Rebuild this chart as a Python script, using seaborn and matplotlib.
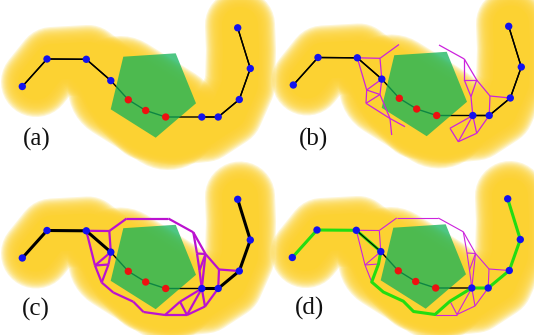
import numpy as np
import matplotlib
matplotlib.use("Agg")
import matplotlib.pyplot as plt
from matplotlib.collections import LineCollection
from matplotlib.patches import Polygon
import seaborn as sns

sns.set_theme(style="white")
plt.rcParams["font.family"] = ["Liberation Serif", "DejaVu Serif"]

# sample points of the path (pixels inside one panel)
path_x = [22.3, 47.0, 86.3, 110.8, 128.3, 145.7, 165.7, 201.8, 218.2, 239.3, 250.3, 237.7]
path_y = [86.5, 59.0, 59.3, 80.6, 99.8, 110.5, 117.0, 117.0, 117.0, 99.5, 68.5, 27.8]
point_kind = ["free"] * 4 + ["blocked"] * 3 + ["free"] * 5

# centre line of the yellow corridor, plus its wide middle part
band_x = [36, 52, 88, 108, 125, 145, 175, 205, 228, 240, 241, 240]
band_y = [82, 62, 60, 75, 105, 125, 130, 127, 112, 85, 50, 25]
bulge_x = [120, 168]
bulge_y = [88, 118]

# green obstacle
obst_x = [123.3, 175.7, 196.0, 155.7, 110.7]
obst_y = [56.7, 53.3, 103.3, 137.7, 109.3]

# full detour mesh, panels (c) and (d)
mesh_nodes = {
    "P3": (86.3, 59.3), "P4": (110.8, 80.6), "P8": (201.8, 117.0),
    "P9": (218.2, 117.0), "P10": (239.3, 99.5),
    "A": (109.3, 59.5), "B": (126.7, 47.0), "C": (168.3, 47.0),
    "D": (193.3, 60.8), "E": (197.0, 82.0), "F": (205.5, 82.5),
    "G": (219.0, 98.0), "R": (199.5, 99.0),
    "L1": (95.0, 94.0), "L2": (108.5, 93.0), "L3": (101.7, 111.0),
    "L4": (113.3, 121.0), "L5": (133.3, 130.2), "L6": (143.5, 140.5),
    "B1": (165.0, 143.5), "B2": (187.0, 143.5), "B3": (205.0, 135.0),
    "BI": (180.0, 130.2),
}
mesh_edges = [
    ("P3", "A"), ("A", "B"), ("B", "C"), ("C", "D"), ("D", "E"), ("D", "F"),
    ("E", "F"), ("E", "R"), ("F", "R"), ("R", "P8"), ("F", "P8"), ("F", "G"),
    ("G", "P10"), ("G", "P9"),
    ("P3", "L1"), ("A", "P4"), ("L1", "P4"), ("L1", "L2"), ("L2", "P4"),
    ("L1", "L3"), ("L2", "L3"), ("L3", "L4"), ("L4", "L5"), ("L5", "L6"),
    ("L6", "B1"), ("B1", "B2"), ("B2", "B3"), ("B3", "P9"), ("B1", "BI"),
    ("BI", "B2"), ("BI", "P8"), ("B2", "P8"), ("B3", "P8"),
]
detour = ["P4", "L2", "L3", "L4", "L5", "L6", "B1", "BI", "P8"]

# partial mesh, panel (b)
part_nodes = {
    "P3": (86.3, 59.3), "P4": (110.8, 80.6), "P8": (201.8, 117.0),
    "P9": (218.2, 117.0), "P10": (239.3, 99.5),
    "A": (109.0, 59.8), "Bt": (128.0, 46.0),
    "L1": (95.7, 91.5), "L2": (109.0, 96.0), "L3": (95.0, 104.8),
    "L4": (119.0, 120.0), "L5": (120.7, 136.5), "L6": (134.0, 128.2),
    "Ct": (168.0, 46.5), "D": (193.3, 60.5), "E": (193.3, 81.5),
    "F": (205.7, 81.5), "R": (200.0, 98.2), "G": (219.0, 97.5),
    "BR1": (179.0, 129.8), "BR2": (187.3, 143.2), "BR3": (205.7, 134.8),
}
part_edges = [
    ("P3", "A"), ("A", "Bt"), ("A", "P4"), ("P3", "L1"), ("L1", "P4"),
    ("L1", "L2"), ("L2", "P4"), ("L1", "L3"), ("L3", "L2"), ("L2", "L4"),
    ("L3", "L4"), ("L4", "L5"), ("L4", "L6"),
    ("Ct", "D"), ("D", "E"), ("D", "F"), ("E", "F"), ("E", "R"), ("F", "R"),
    ("R", "P8"), ("F", "G"), ("G", "P10"), ("G", "P9"),
    ("P8", "BR1"), ("BR1", "BR2"), ("BR2", "P8"), ("BR2", "BR3"),
    ("BR3", "P8"), ("BR3", "P9"),
]

labels = ["(a)", "(b)", "(c)", "(d)"]

# layout of the four panels (pixel offsets)
offsets = [(0, 0), (271, -1.5), (0, 171.5), (270, 171)]
label_pos = [(22.5, 139), (298.7, 139), (21.7, 309.5), (295, 308.5)]

YELLOW = "#FCD232"
BLUE = "#1212EE"
RED = "#EE1010"
MAGENTA = "#CC22DD"
GREEN = "#22DD11"
PX = 0.72  # points per pixel at dpi 100

fig = plt.figure(figsize=(5.34, 3.35), dpi=100)
ax = fig.add_axes([0, 0, 1, 1])

px = np.array(path_x)
py = np.array(path_y)


def segs(nodes, edges, ox, oy):
    return [[(nodes[a][0] + ox, nodes[a][1] + oy),
             (nodes[b][0] + ox, nodes[b][1] + oy)] for a, b in edges]


def soft_stroke(xs, ys, core, outer):
    for w in np.linspace(core, outer, 16):
        ax.plot(xs, ys, color=YELLOW, lw=w * PX, alpha=0.2,
                solid_capstyle="round", solid_joinstyle="round", zorder=1)
    ax.plot(xs, ys, color=YELLOW, lw=core * PX, solid_capstyle="round",
            solid_joinstyle="round", zorder=1)


for i, (ox, oy) in enumerate(offsets):
    # blurred yellow corridor
    soft_stroke(np.array(band_x) + ox, np.array(band_y) + oy, 36, 70)
    soft_stroke(np.array(bulge_x) + ox, np.array(bulge_y) + oy, 72, 104)

    # thin path (goes under the obstacle)
    sns.lineplot(x=px + ox, y=py + oy, sort=False, estimator=None,
                 color="black", lw=1.0, ax=ax, zorder=2)

    # obstacle
    ax.add_patch(Polygon(np.column_stack([np.array(obst_x) + ox, np.array(obst_y) + oy]),
                         closed=True, facecolor=(0.07, 0.70, 0.35), alpha=0.75,
                         edgecolor="none", zorder=3))

    # mesh
    if i == 1:
        ax.add_collection(LineCollection(segs(part_nodes, part_edges, ox, oy),
                                         colors=MAGENTA, linewidths=0.9, zorder=4))
    elif i >= 2:
        ax.add_collection(LineCollection(segs(mesh_nodes, mesh_edges, ox, oy),
                                         colors="#BB11D0" if i == 2 else MAGENTA,
                                         linewidths=1.6 if i == 2 else 0.8, zorder=4))

    # outer parts of the path
    if i == 2:
        sns.lineplot(x=px[:4] + ox, y=py[:4] + oy, sort=False, estimator=None,
                     color="black", lw=2.2, ax=ax, zorder=5)
        sns.lineplot(x=px[7:] + ox, y=py[7:] + oy, sort=False, estimator=None,
                     color="black", lw=2.2, ax=ax, zorder=5)
    elif i == 3:
        dx = np.array([mesh_nodes[n][0] for n in detour])
        dy = np.array([mesh_nodes[n][1] for n in detour])
        sns.lineplot(x=px[:4] + ox, y=py[:4] + oy, sort=False, estimator=None,
                     color=GREEN, lw=2.2, ax=ax, zorder=5)
        sns.lineplot(x=dx + ox, y=dy + oy, sort=False, estimator=None,
                     color=GREEN, lw=2.2, ax=ax, zorder=5)
        sns.lineplot(x=px[7:] + ox, y=py[7:] + oy, sort=False, estimator=None,
                     color=GREEN, lw=2.2, ax=ax, zorder=5)
        sns.lineplot(x=px[2:4] + ox, y=py[2:4] + oy, sort=False, estimator=None,
                     color="black", lw=0.8, ax=ax, zorder=5.5)
    else:
        sns.lineplot(x=px[:4] + ox, y=py[:4] + oy, sort=False, estimator=None,
                     color="black", lw=1.0, ax=ax, zorder=5)
        sns.lineplot(x=px[7:] + ox, y=py[7:] + oy, sort=False, estimator=None,
                     color="black", lw=1.0, ax=ax, zorder=5)

    # sample points
    sns.scatterplot(x=px + ox, y=py + oy, hue=point_kind,
                    palette={"free": BLUE, "blocked": RED}, s=28, linewidth=0,
                    legend=False, ax=ax, zorder=6)

    lx, ly = label_pos[i]
    ax.text(lx, ly, labels[i], fontsize=18, ha="left", va="center", color="#111111",
            zorder=7)

ax.set_xlim(0, 534)
ax.set_ylim(335, 0)
ax.axis("off")
fig.savefig("out.png", dpi=100)
